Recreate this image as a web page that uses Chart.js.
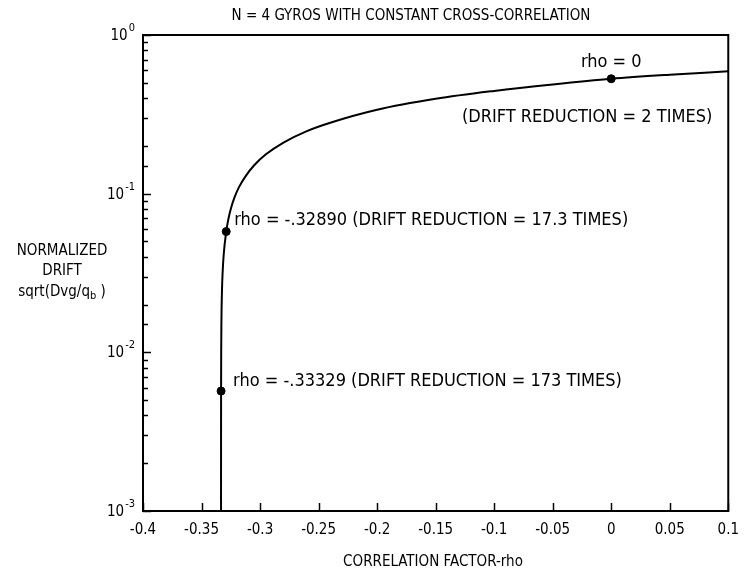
<!DOCTYPE html>
<html>
<head>
<meta charset="utf-8">
<script src="https://cdn.jsdelivr.net/npm/chart.js@4/dist/chart.umd.min.js"></script>
<style>
html,body{margin:0;padding:0;background:#fff;}
#wrap{width:749px;height:576px;}
</style>
</head>
<body>
<div id="wrap"><canvas id="c" width="749" height="576"></canvas></div>
<script>
// ---- data ----
const rhoValues = [-0.333332, -0.33333, -0.33332, -0.33329, -0.3332, -0.333, -0.3325, -0.332, -0.331, -0.3289,
  -0.327, -0.325, -0.322, -0.318, -0.312, -0.305, -0.295, -0.28, -0.26, -0.24, -0.2, -0.15, -0.1, -0.05, 0, 0.05, 0.1];
const driftValues = [0.001, 0.00158, 0.00316, 0.0057, 0.01, 0.0158, 0.025, 0.0316, 0.0418, 0.0577,
  0.0695, 0.08, 0.094, 0.11, 0.13, 0.151, 0.177, 0.21, 0.248, 0.28, 0.338, 0.396, 0.444, 0.488, 0.53, 0.562, 0.59];
const markedRho = [0, -0.3289, -0.33329];
const markedDrift = [0.53, 0.0577, 0.0057];
const xTickValues = [-0.4, -0.35, -0.3, -0.25, -0.2, -0.15, -0.1, -0.05, 0, 0.05, 0.1];
const yTickValues = [1, 0.1, 0.01, 0.001];
const yTickExponents = ['0', '-1', '-2', '-3'];
const titleText = 'N = 4 GYROS WITH CONSTANT CROSS-CORRELATION';
const xAxisTitle = 'CORRELATION FACTOR-rho';
const yAxisTitleLines = ['NORMALIZED', 'DRIFT'];
const noteAbove = ['rho = 0', '', ''];
const noteRight = ['(DRIFT REDUCTION = 2 TIMES)', 'rho = -.32890 (DRIFT REDUCTION = 17.3 TIMES)', 'rho = -.33329 (DRIFT REDUCTION = 173 TIMES)'];

const FONT = "'DejaVu Sans Condensed','Liberation Sans',sans-serif";
const fs = 15;
const fsNote = 18;

const decorPlugin = {
  id: 'decor',
  afterDraw(chart) {
    const ctx = chart.ctx, a = chart.chartArea;
    const xs = chart.scales.x, ys = chart.scales.y;
    ctx.save();
    ctx.fillStyle = '#000'; ctx.strokeStyle = '#000';
    // frame
    ctx.lineWidth = 2;
    ctx.strokeRect(a.left, a.top, a.right - a.left, a.bottom - a.top);
    // x ticks (inside)
    ctx.lineWidth = 1.5;
    xs.ticks.forEach(t => {
      const px = Math.round(xs.getPixelForValue(t.value)) + 0.5;
      ctx.beginPath(); ctx.moveTo(px, a.bottom); ctx.lineTo(px, a.bottom - 8); ctx.stroke();
    });
    // y ticks (inside, log minor)
    ys.ticks.forEach(t => {
      const py = Math.round(ys.getPixelForValue(t.value)) + 0.5;
      const mant = t.value / Math.pow(10, Math.floor(Math.log10(t.value) + 1e-9));
      const major = Math.abs(mant - 1) < 1e-6;
      ctx.beginPath(); ctx.moveTo(a.left, py); ctx.lineTo(a.left + (major ? 8 : 5), py); ctx.stroke();
    });
    // y tick labels 10^n
    yTickValues.forEach((v, i) => {
      const py = ys.getPixelForValue(v);
      ctx.textBaseline = 'middle';
      ctx.font = '11px ' + FONT;
      const supW = ctx.measureText(yTickExponents[i]).width;
      ctx.font = fs + 'px ' + FONT;
      ctx.textAlign = 'right';
      const right = a.left - 8;
      ctx.fillText('10', right - supW - 1, py + 1);
      ctx.font = '11px ' + FONT;
      ctx.textAlign = 'left';
      ctx.fillText(yTickExponents[i], right - supW, py - 7);
    });
    // title
    ctx.font = fs + 'px ' + FONT;
    ctx.textAlign = 'center'; ctx.textBaseline = 'middle';
    ctx.fillText(titleText, 411, 16);
    // x axis title
    ctx.fillText(xAxisTitle, 433, 562);
    // y axis title
    ctx.fillText(yAxisTitleLines[0], 62, 251);
    ctx.fillText(yAxisTitleLines[1], 62, 271);
    const base = 'sqrt(Dvg/q', sub = 'b', tail = ' )';
    const w1 = ctx.measureText(base).width, w3 = ctx.measureText(tail).width;
    ctx.font = '11px ' + FONT; const w2 = ctx.measureText(sub).width;
    const total = w1 + w2 + w3; let sx = 62 - total / 2;
    ctx.textAlign = 'left';
    ctx.font = fs + 'px ' + FONT; ctx.fillText(base, sx, 292); sx += w1;
    ctx.font = '11px ' + FONT; ctx.fillText(sub, sx, 296); sx += w2;
    ctx.font = fs + 'px ' + FONT; ctx.fillText(tail, sx, 292);
    // annotations
    ctx.font = fsNote + 'px ' + FONT;
    const p0x = xs.getPixelForValue(markedRho[0]), p0y = ys.getPixelForValue(markedDrift[0]);
    ctx.textAlign = 'center';
    ctx.fillText(noteAbove[0], p0x, p0y - 16);
    ctx.textAlign = 'left';
    ctx.fillText(noteRight[0], 462, p0y + 39);
    const p1x = xs.getPixelForValue(markedRho[1]), p1y = ys.getPixelForValue(markedDrift[1]);
    ctx.fillText(noteRight[1], p1x + 8, p1y - 11);
    const p2x = xs.getPixelForValue(markedRho[2]), p2y = ys.getPixelForValue(markedDrift[2]);
    ctx.fillText(noteRight[2], p2x + 12, p2y - 10);
    ctx.restore();
  }
};

new Chart(document.getElementById('c'), {
  type: 'scatter',
  data: {
    datasets: [
      {
        data: rhoValues.map((x, i) => ({x, y: driftValues[i]})),
        showLine: true, borderColor: '#000', borderWidth: 2, pointRadius: 0,
        cubicInterpolationMode: 'monotone', fill: false
      },
      {
        data: markedRho.map((x, i) => ({x, y: markedDrift[i]})),
        showLine: false, pointRadius: 4, pointBackgroundColor: '#000', pointBorderColor: '#000'
      }
    ]
  },
  options: {
    responsive: false, animation: false, devicePixelRatio: 1,
    layout: {padding: {left: 0, right: 16, top: 35, bottom: 0}},
    plugins: {legend: {display: false}, tooltip: {enabled: false}, title: {display: false}},
    scales: {
      x: {
        type: 'linear', min: -0.4, max: 0.1,
        afterBuildTicks: s => { s.ticks = xTickValues.map(v => ({value: v})); },
        afterFit: s => { s.height = 65; },
        grid: {display: false, drawTicks: false},
        border: {display: false},
        ticks: {
          color: '#000', padding: 10, font: {family: FONT, size: fs}, maxRotation: 0, autoSkip: false,
          callback: v => String(Number(v.toFixed(2)))
        }
      },
      y: {
        type: 'logarithmic', min: 0.001, max: 1,
        afterFit: s => { s.width = 143; },
        grid: {display: false, drawTicks: false},
        border: {display: false},
        ticks: {display: false, autoSkip: false}
      }
    }
  },
  plugins: [decorPlugin]
});
</script>
</body>
</html>
